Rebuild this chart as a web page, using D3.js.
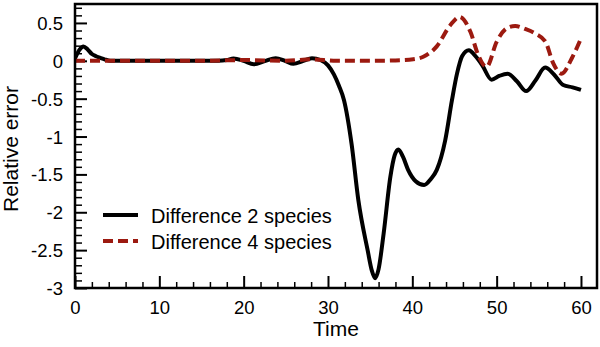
<!DOCTYPE html>
<html>
<head>
<meta charset="utf-8">
<script src="https://cdn.jsdelivr.net/npm/d3@7"></script>
<style>
  html, body { margin: 0; padding: 0; background: #fff; }
  svg { display: block; }
  text { font-family: "Liberation Sans", Arial, Helvetica, sans-serif; fill: #000; }
</style>
</head>
<body>
<svg id="chart" width="600" height="347"></svg>
<script>
// ---- data ----
const seriesNames = ["Difference 2 species", "Difference 4 species"];

const time2 = [0, 0.5, 1, 1.5, 2, 2.5, 3, 3.5, 4.2, 6, 10, 14, 17, 18, 18.8, 20, 21.2, 22.5, 23.8, 24.9, 25.9, 27, 28.1, 29.1, 30, 30.7, 31.3, 31.9, 32.8, 33.6, 34.7, 35.2, 35.6, 36, 36.6, 37.4, 37.9, 38.35, 38.9, 39.5, 40.4, 41.4, 42.2, 42.9, 43.9, 44.7, 45.3, 45.9, 46.7, 47.5, 48.3, 49.4, 50.3, 51.3, 52.4, 53.5, 54.6, 55.75, 56.8, 57.9, 59, 60];
const diff2 = [0.03, 0.14, 0.19, 0.15, 0.09, 0.06, 0.04, 0.02, 0.0, 0, 0, 0, 0, 0.01, 0.03, 0.0, -0.045, -0.005, 0.035, 0.0, -0.04, -0.005, 0.035, 0.01, -0.06, -0.18, -0.33, -0.52, -1.1, -1.84, -2.5, -2.77, -2.87, -2.75, -2.28, -1.53, -1.25, -1.17, -1.27, -1.44, -1.59, -1.64, -1.56, -1.44, -1.05, -0.52, -0.17, 0.06, 0.14, 0.06, -0.06, -0.25, -0.2, -0.17, -0.27, -0.40, -0.26, -0.09, -0.18, -0.32, -0.35, -0.385];

const time4 = [0, 5, 10, 15, 20, 25, 28, 31, 35, 38, 40.1, 41.3, 42.9, 44.5, 45.6, 46.9, 47.8, 48.8, 50.0, 51.2, 52.2, 53.4, 54.6, 55.8, 56.7, 57.7, 58.9, 59.9];
const diff4 = [0, 0, 0, 0, 0.01, 0.0, 0.02, 0.0, 0.0, 0.005, 0.02, 0.054, 0.19, 0.47, 0.58, 0.38, 0.08, -0.08, 0.25, 0.43, 0.46, 0.42, 0.36, 0.25, -0.03, -0.17, 0.03, 0.27];

const xTicks = [0, 10, 20, 30, 40, 50, 60];
const yTicks = [-3, -2.5, -2, -1.5, -1, -0.5, 0, 0.5];
const xLabel = "Time";
const yLabel = "Relative error";

// ---- layout ----
const svg = d3.select("#chart");
const mLeft = 75, mRight = 597, mTop = 4, mBottom = 288;

const x = d3.scaleLinear().domain([0, 61.9]).range([mLeft, mRight]);
const y = d3.scaleLinear().domain([-3, 0.75]).range([mBottom, mTop]);

const xMinor = d3.range(0, 61.9, 2).filter(v => !xTicks.includes(v));
const yMinor = d3.range(-30, 8).map(v => v / 10).filter(v => !yTicks.some(t => Math.abs(t - v) < 1e-9));

const fmt = d => String(d);

// minor ticks
svg.append("g").attr("transform", `translate(0,${mBottom})`)
  .call(d3.axisBottom(x).tickValues(xMinor).tickSize(-6).tickSizeOuter(0).tickFormat(""))
  .call(g => g.select(".domain").remove())
  .call(g => g.selectAll("line").attr("stroke-width", 1.5));
svg.append("g").attr("transform", `translate(${mLeft},0)`)
  .call(d3.axisLeft(y).tickValues(yMinor).tickSize(-7).tickSizeOuter(0).tickFormat(""))
  .call(g => g.select(".domain").remove())
  .call(g => g.selectAll("line").attr("stroke-width", 1.5));

// major ticks + labels
svg.append("g").attr("transform", `translate(0,${mBottom})`)
  .call(d3.axisBottom(x).tickValues(xTicks).tickSize(-12).tickSizeOuter(0).tickPadding(0).tickFormat(fmt))
  .call(g => g.select(".domain").remove())
  .call(g => g.selectAll("line").attr("stroke-width", 2))
  .call(g => g.selectAll("text").attr("y", 26).attr("dy", null)
    .attr("font-size", 18.5).style("font-family", "'Liberation Sans', Arial, sans-serif"));
svg.append("g").attr("transform", `translate(${mLeft},0)`)
  .call(d3.axisLeft(y).tickValues(yTicks).tickSize(-12).tickSizeOuter(0).tickFormat(fmt))
  .call(g => g.select(".domain").remove())
  .call(g => g.selectAll("line").attr("stroke-width", 2))
  .call(g => g.selectAll("text").attr("x", -12).attr("dy", "0.35em")
    .attr("font-size", 18.5).style("font-family", "'Liberation Sans', Arial, sans-serif"));

// lines
const line = d3.line().curve(d3.curveMonotoneX);
svg.append("clipPath").attr("id", "clip").append("rect")
  .attr("x", mLeft).attr("y", mTop).attr("width", mRight - mLeft).attr("height", mBottom - mTop);

svg.append("path")
  .attr("clip-path", "url(#clip)")
  .attr("d", line(time2.map((t, i) => [x(t), y(diff2[i])])))
  .attr("fill", "none").attr("stroke", "#000").attr("stroke-width", 4)
  .attr("stroke-linejoin", "round");

svg.append("path")
  .attr("clip-path", "url(#clip)")
  .attr("d", line(time4.map((t, i) => [x(t), y(diff4[i])])))
  .attr("fill", "none").attr("stroke", "#9c1a10").attr("stroke-width", 4)
  .attr("stroke-dasharray", "10,5");

// frame
svg.append("rect")
  .attr("x", mLeft).attr("y", mTop).attr("width", mRight - mLeft).attr("height", mBottom - mTop)
  .attr("fill", "none").attr("stroke", "#000").attr("stroke-width", 2.5);

// axis labels
svg.append("text").attr("x", (mLeft + mRight) / 2).attr("y", 336)
  .attr("text-anchor", "middle").attr("font-size", 21).text(xLabel);
svg.append("text").attr("transform", `translate(18,${(mTop + mBottom) / 2 + 3}) rotate(-90)`)
  .attr("text-anchor", "middle").attr("font-size", 21).text(yLabel);

// legend
const legendY = [215, 241];
const legendStyles = [
  { stroke: "#000", dash: null },
  { stroke: "#9c1a10", dash: "10,5" }
];
seriesNames.forEach((name, i) => {
  svg.append("line").attr("x1", 103).attr("x2", 138).attr("y1", legendY[i]).attr("y2", legendY[i])
    .attr("stroke", legendStyles[i].stroke).attr("stroke-width", 4)
    .attr("stroke-dasharray", legendStyles[i].dash);
  svg.append("text").attr("x", 151).attr("y", legendY[i] + 8)
    .attr("font-size", 20).text(name);
});
</script>
</body>
</html>
